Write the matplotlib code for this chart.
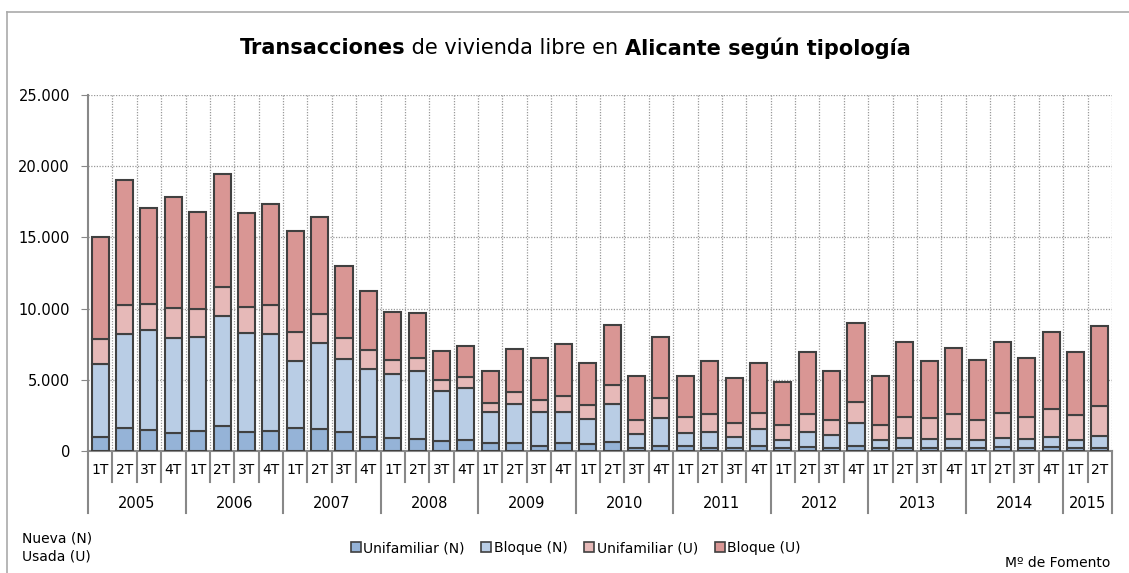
import numpy as np
import matplotlib
matplotlib.use("Agg")
import matplotlib.pyplot as plt
from matplotlib.lines import Line2D
from matplotlib.patches import Patch

plt.rcParams['font.family'] = ['DejaVu Sans']

years = ['2005', '2006', '2007', '2008', '2009', '2010', '2011', '2012', '2013', '2014', '2015']
quarters_per_year = [4, 4, 4, 4, 4, 4, 4, 4, 4, 4, 2]
quarter_labels = ['1T', '2T', '3T', '4T']

unifamiliar_n = [1000, 1600, 1480, 1290, 1400, 1780, 1360, 1400, 1640, 1570, 1310, 1000,
                 890, 840, 700, 750, 580, 580, 350, 540, 470, 650, 190, 370,
                 350, 230, 230, 350, 190, 260, 230, 350, 230, 230, 230, 230,
                 230, 300, 230, 300, 230, 230]
bloque_n = [5100, 6650, 7020, 6670, 6630, 7720, 6900, 6790, 4700, 6030, 5130, 4760,
            4490, 4780, 3540, 3650, 2160, 2720, 2410, 2220, 1750, 2650, 1000, 1920,
            940, 1130, 770, 1170, 580, 1050, 890, 1640, 540, 710, 610, 610,
            540, 640, 610, 700, 540, 840]
unifamiliar_u = [1800, 2000, 1800, 2060, 1920, 2040, 1870, 2060, 2040, 2020, 1470, 1330,
                 1010, 930, 750, 770, 650, 860, 820, 1120, 1010, 1330, 990, 1450,
                 1120, 1220, 940, 1130, 1030, 1290, 1060, 1470, 1060, 1430, 1500, 1740,
                 1410, 1750, 1570, 1950, 1760, 2110]
bloque_u = [7100, 8750, 6740, 7840, 6860, 7910, 6610, 7090, 7070, 6790, 5100, 4170,
            3390, 3110, 2050, 2200, 2230, 3000, 2930, 3610, 2950, 4220, 3110, 4290,
            2860, 3720, 3210, 3550, 3070, 4330, 3460, 5510, 3440, 5260, 4000, 4630,
            4210, 4980, 4140, 5430, 4400, 5620]

series = [
    ('Unifamiliar (N)', unifamiliar_n, '#95B3D7'),
    ('Bloque (N)', bloque_n, '#B9CDE5'),
    ('Unifamiliar (U)', unifamiliar_u, '#E6B9B8'),
    ('Bloque (U)', bloque_u, '#D99694'),
]

n = len(unifamiliar_n)
x = np.arange(n)

fig = plt.figure(figsize=(11.29, 5.73), dpi=100)
ax = fig.add_axes([88 / 1129, 122 / 573, 1024 / 1129, 356 / 573])

bottom = np.zeros(n)
for name, vals, col in series:
    vals = np.array(vals)
    ax.bar(x, vals, bottom=bottom, width=0.7, color=col, edgecolor='#404040',
           linewidth=1.5, zorder=3, label=name)
    bottom += vals

ax.set_xlim(-0.5, n - 0.5)
ax.set_ylim(0, 25000)
ax.set_yticks(range(0, 25001, 5000))
ax.set_yticklabels(['0' if v == 0 else f'{v:,}'.replace(',', '.') for v in range(0, 25001, 5000)],
                   fontsize=10.5)
ax.tick_params(axis='y', length=5, color='#888888', pad=8)
ax.set_xticks([])

# dotted grid
dots = (0, (1, 1.2))
for v in range(5000, 25001, 5000):
    ax.axhline(v, color='#999999', linestyle=dots, linewidth=0.9, zorder=1)
for b in np.arange(0.5, n, 1):
    ax.axvline(b, color='#999999', linestyle=dots, linewidth=0.9, zorder=1)

for s in ['top', 'right']:
    ax.spines[s].set_visible(False)
ax.spines['left'].set_color('#888888')
ax.spines['left'].set_linewidth(1.5)
ax.spines['bottom'].set_color('#888888')
ax.spines['bottom'].set_linewidth(1.5)

# two-level category axis
tr = ax.get_xaxis_transform()
q_bottom = -31 / 356
y_bottom = -62 / 356
starts = np.concatenate([[0], np.cumsum(quarters_per_year)])
year_edges = set(starts - 0.5)
for b in np.arange(-0.5, n, 1):
    low = y_bottom if b in year_edges else q_bottom
    ax.add_line(Line2D([b, b], [0, low], transform=tr, color='#888888',
                       linewidth=1.5, clip_on=False))
for i, yr in enumerate(years):
    k = quarters_per_year[i]
    for q in range(k):
        ax.text(starts[i] + q, -19 / 356, quarter_labels[q], transform=tr,
                ha='center', va='center', fontsize=10)
    ax.text(starts[i] + (k - 1) / 2, -52 / 356, yr, transform=tr,
            ha='center', va='center', fontsize=10.5)

# title, three pieces laid side by side
renderer = fig.canvas.get_renderer()
parts = [('Transacciones', 'bold'), (' de vivienda libre en ', 'normal'),
         ('Alicante según tipología', 'bold')]
ty = 1 - 48 / 573
texts = [fig.text(0, ty, s, fontsize=15, fontweight=w, ha='left', va='center') for s, w in parts]
widths = [t.get_window_extent(renderer).width for t in texts]
xpos = 575 - sum(widths) / 2
for t, w in zip(texts, widths):
    t.set_x(xpos / 1129)
    xpos += w

# legend
handles = [Patch(facecolor=c, edgecolor='#404040', linewidth=1.2) for _, _, c in series]
fig.legend(handles, [s[0] for s in series], loc='center', bbox_to_anchor=(0.51, 1 - 548 / 573),
           ncol=4, frameon=False, fontsize=10, handlelength=0.7, handleheight=0.7,
           handletextpad=0.2, columnspacing=1.2)

fig.text(22 / 1129, 1 - 538 / 573, 'Nueva (N)', fontsize=10, va='center')
fig.text(22 / 1129, 1 - 556 / 573, 'Usada (U)', fontsize=10, va='center')
fig.text(1110 / 1129, 1 - 563 / 573, 'Mº de Fomento', fontsize=10, va='center', ha='right')

# outer border
fig.add_artist(Line2D([7 / 1129, 1], [1 - 12 / 573, 1 - 12 / 573], transform=fig.transFigure,
                      color='#AAAAAA', linewidth=1.2))
fig.add_artist(Line2D([7 / 1129, 7 / 1129], [0, 1 - 12 / 573], transform=fig.transFigure,
                      color='#AAAAAA', linewidth=1.2))

fig.savefig('out.png', dpi=100)
